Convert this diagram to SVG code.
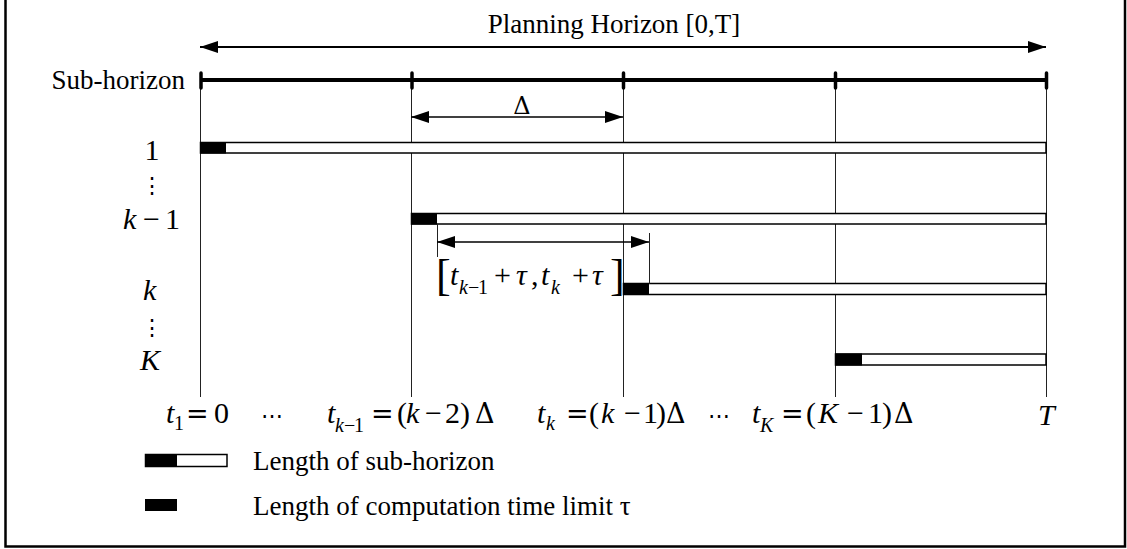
<svg xmlns="http://www.w3.org/2000/svg" width="1127" height="549" viewBox="0 0 1127 549">
<style>
.t{font-family:"Liberation Serif","Times New Roman",serif;font-size:27px;fill:#000}
.m{font-family:"Liberation Serif","Times New Roman",serif;font-size:30px;fill:#000}
.i{font-style:italic}
.s{font-size:20px}
.eq{font-family:"DejaVu Serif",serif;font-size:27px}
.dl{font-family:"DejaVu Serif",serif;font-size:27px}
.dots{font-family:"DejaVu Serif",serif;font-size:22px}
.brk{font-size:44px}
.guide{stroke:#222;stroke-width:1;fill:none}
.arr{stroke:#000;fill:none}
.bar{fill:#fff;stroke:#000;stroke-width:1.5}
.blk{fill:#000}
.tick{stroke:#000;stroke-width:3.5;stroke-linecap:round}
</style>
<defs>
<marker id="ah" markerUnits="userSpaceOnUse" markerWidth="18" markerHeight="12" refX="18" refY="6" orient="auto-start-reverse" viewBox="0 0 18 12">
<path d="M0,0 L18,6 L0,12 z" fill="#000"/>
</marker>
</defs>
<rect x="5.5" y="-10" width="1119.5" height="556.5" fill="#fff" stroke="#000" stroke-width="2.5"/>
<g id="guides">
<line class="guide" x1="200.5" y1="80" x2="200.5" y2="397"/>
<line class="guide" x1="411.5" y1="80" x2="411.5" y2="397"/>
<line class="guide" x1="623.5" y1="80" x2="623.5" y2="397"/>
<line class="guide" x1="835.5" y1="80" x2="835.5" y2="397"/>
<line class="guide" x1="1046.5" y1="80" x2="1046.5" y2="397"/>
</g>
<g id="planning-horizon">
<text class="t" x="614" y="33" text-anchor="middle">Planning Horizon [0,T]</text>
</g>
<g id="sub-horizon">
<text class="t" x="185" y="89" text-anchor="end">Sub-horizon</text>
<line x1="200" y1="80" x2="1047" y2="80" stroke="#000" stroke-width="4"/>
<line class="tick" x1="201" y1="73" x2="201" y2="88"/>
<line class="tick" x1="412" y1="73" x2="412" y2="88"/>
<line class="tick" x1="623.5" y1="73" x2="623.5" y2="88"/>
<line class="tick" x1="835.5" y1="73" x2="835.5" y2="88"/>
<line class="tick" x1="1046.5" y1="73" x2="1046.5" y2="88"/>
</g>
<g id="bar-1">
<rect class="bar" x="200.5" y="142.5" width="845.5" height="10.5"/>
<rect class="blk" x="200" y="142" width="26" height="11.5"/>
<text class="m" x="152" y="160" text-anchor="middle">1</text>
<text class="dots" x="152" y="193" text-anchor="middle">⋮</text>
</g>
<g id="bar-k-1">
<rect class="bar" x="411.5" y="213.5" width="634.5" height="10.5"/>
<rect class="blk" x="411" y="213" width="26" height="11.5"/>
<text class="m" y="229"><tspan class="i" x="123">k</tspan><tspan x="143">−</tspan><tspan x="165">1</tspan></text>
</g>
<g id="bar-k">
<rect class="bar" x="623.5" y="283.5" width="422.5" height="11"/>
<rect class="blk" x="623" y="283" width="26" height="12"/>
<text class="m i" x="143" y="300">k</text>
<text class="dots" x="152" y="335" text-anchor="middle">⋮</text>
</g>
<g id="bar-K">
<rect class="bar" x="835.5" y="354" width="210.5" height="11"/>
<rect class="blk" x="835" y="353.5" width="27" height="12"/>
<text class="m i" x="140" y="370">K</text>
</g>
<g id="delta">
<text class="dl" x="522" y="114" text-anchor="middle" style="font-size:24px">Δ</text>
</g>
<g id="interval">
<line class="guide" x1="437.5" y1="224" x2="437.5" y2="257"/>
<line class="guide" x1="649.5" y1="233" x2="649.5" y2="284"/>
<text class="m brk" x="436" y="290">[</text>
<text class="m" y="285"><tspan class="i" x="450" y="285">t</tspan><tspan class="s i" x="459" y="294">k</tspan><tspan class="s" x="468" y="294">−</tspan><tspan class="s" x="478" y="294">1</tspan><tspan x="494" y="285">+</tspan><tspan class="i" x="516" y="285">τ</tspan><tspan x="531" y="285">,</tspan><tspan class="i" x="541" y="285">t</tspan><tspan class="s i" x="551" y="294">k</tspan><tspan x="572" y="285">+</tspan><tspan class="i" x="592" y="285">τ</tspan></text>
<text class="m brk" x="610" y="290">]</text>
</g>
<g id="connectors">
<line class="arr" x1="200" y1="47" x2="1046" y2="47" stroke-width="2" marker-start="url(#ah)" marker-end="url(#ah)"/>
<line class="arr" x1="411" y1="117" x2="623" y2="117" stroke-width="1.5" marker-start="url(#ah)" marker-end="url(#ah)"/>
<line class="arr" x1="437" y1="242" x2="649" y2="242" stroke-width="1.5" marker-start="url(#ah)" marker-end="url(#ah)"/>
</g>
<g id="time-labels">
<text class="m" y="423"><tspan class="i" x="166">t</tspan><tspan class="s" x="174" y="430">1</tspan><tspan class="eq" x="186" y="423">=</tspan><tspan x="214" y="423">0</tspan></text>
<text class="dots" x="272" y="423" text-anchor="middle">⋯</text>
<text class="m" y="423"><tspan class="i" x="327">t</tspan><tspan class="s i" x="335" y="432">k</tspan><tspan class="s" x="344" y="432">−</tspan><tspan class="s" x="354" y="432">1</tspan><tspan class="eq" x="371" y="423">=</tspan><tspan x="397" y="423">(</tspan><tspan class="i" x="406" y="423">k</tspan><tspan x="425" y="423">−</tspan><tspan x="445" y="423">2</tspan><tspan x="460" y="423">)</tspan><tspan class="dl" x="475" y="423">Δ</tspan></text>
<text class="m" y="423"><tspan class="i" x="537">t</tspan><tspan class="s i" x="546" y="430">k</tspan><tspan class="eq" x="566" y="423">=</tspan><tspan x="589" y="423">(</tspan><tspan class="i" x="601" y="423">k</tspan><tspan x="624" y="423">−</tspan><tspan x="643" y="423">1</tspan><tspan x="656" y="423">)</tspan><tspan class="dl" x="666" y="423">Δ</tspan></text>
<text class="dots" x="719" y="423" text-anchor="middle">⋯</text>
<text class="m" y="423"><tspan class="i" x="752">t</tspan><tspan class="s i" x="760" y="432">K</tspan><tspan class="eq" x="781" y="423">=</tspan><tspan x="806" y="423">(</tspan><tspan class="i" x="818" y="423">K</tspan><tspan x="847" y="423">−</tspan><tspan x="868" y="423">1</tspan><tspan x="882" y="423">)</tspan><tspan class="dl" x="894" y="423">Δ</tspan></text>
<text class="m i" x="1038" y="425">T</text>
</g>
<g id="legend">
<rect class="bar" x="145.5" y="454.5" width="81.5" height="12"/>
<rect class="blk" x="145" y="454" width="32" height="13"/>
<text class="t" x="253" y="470">Length of sub-horizon</text>
<rect class="blk" x="145" y="499" width="32" height="12"/>
<text class="t" x="253" y="515">Length of computation time limit τ</text>
</g>
</svg>
